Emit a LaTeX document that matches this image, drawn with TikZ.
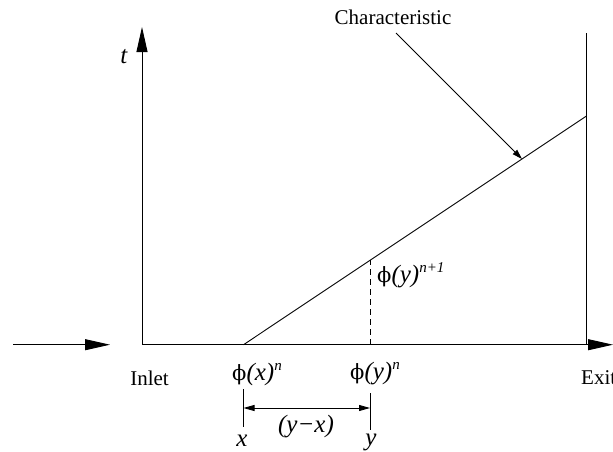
\documentclass[tikz,border=0pt]{standalone}
\usepackage{fontspec}
\setmainfont{Liberation Serif}
\newfontfamily\phif{DejaVu Serif}
\usetikzlibrary{arrows.meta}
\newcommand{\phig}{{\phif\fontsize{21}{24}\selectfont\char"03D5}}
\newcommand{\supx}[1]{\raisebox{10pt}{\fontsize{15}{15}\selectfont\textit{#1}}}
\newcommand{\mlab}[1]{{\fontsize{25}{28}\selectfont\textit{#1}}}
\tikzset{
  ln/.style={line width=0.9pt, line cap=butt},
  bigarrow/.style={ln, -{Triangle[length=25pt,width=11pt]}},
  smallarrow/.style={ln, -{Triangle[length=10pt,width=6pt]}},
  dimarrow/.style={ln, {Triangle[length=11pt,width=6pt]}-{Triangle[length=11pt,width=6pt]}},
  lbl/.style={inner sep=0pt, font=\fontsize{21}{25}\selectfont},
}
\begin{document}
\begin{tikzpicture}[x=1pt,y=-1pt]
\useasboundingbox (0,0) rectangle (613,451);
% coordinates
\coordinate (O) at (142,344.7);
\coordinate (Ttop) at (142,27);
\coordinate (Xend) at (613,344.7);
\coordinate (Lstart) at (13,344.7);
\coordinate (Lend) at (110,344.7);
\coordinate (Etop) at (586,33);
\coordinate (Ebot) at (586,344.7);
\coordinate (C0) at (243.5,344.7);
\coordinate (C1) at (586,116.3);
\coordinate (D) at (370,344.7);
\coordinate (Dtop) at (370,260.3);
\coordinate (Astart) at (396,33);
\coordinate (Aend) at (522,159);
\coordinate (XT1) at (243.5,389);
\coordinate (XT2) at (243.5,427);
\coordinate (YT1) at (370,393);
\coordinate (YT2) at (370,430);
\coordinate (DA1) at (243.5,408);
\coordinate (DA2) at (370,408);
% axes
\draw[bigarrow] (O) -- (Ttop);
\draw[bigarrow] (O) -- (Xend);
\draw[bigarrow] (Lstart) -- (Lend);
\draw[ln] (Ebot) -- (Etop);
% characteristic
\draw[ln] (C0) -- (C1);
\draw[ln, dash pattern=on 6pt off 4pt] (D) -- (Dtop);
\draw[smallarrow] (Astart) -- (Aend);
% dimension
\draw[ln] (XT1) -- (XT2);
\draw[ln] (YT1) -- (YT2);
\draw[dimarrow] (DA1) -- (DA2);
% labels
\node[lbl] (char) at (393,17) {Characteristic};
\node[lbl] (t) at (124,57) {\mlab{t}};
\node[lbl] (inlet) at (149.5,378) {Inlet};
\node[lbl, anchor=west] (exit) at (581,378) {Exit};
\node[lbl] (phx) at (257,374) {\phig\mlab{(x)}\supx{n}};
\node[lbl] (phy) at (375,374) {\phig\mlab{(y)}\supx{n}};
\node[lbl, anchor=west] (phy1) at (377,275) {\phig\mlab{(y)}\supx{n+1}};
\node[lbl] (ymx) at (306,427) {\mlab{(y−x)}};
\node[lbl] (xl) at (242,441) {\mlab{x}};
\node[lbl] (yl) at (371,442) {\mlab{y}};
\end{tikzpicture}
\end{document}
